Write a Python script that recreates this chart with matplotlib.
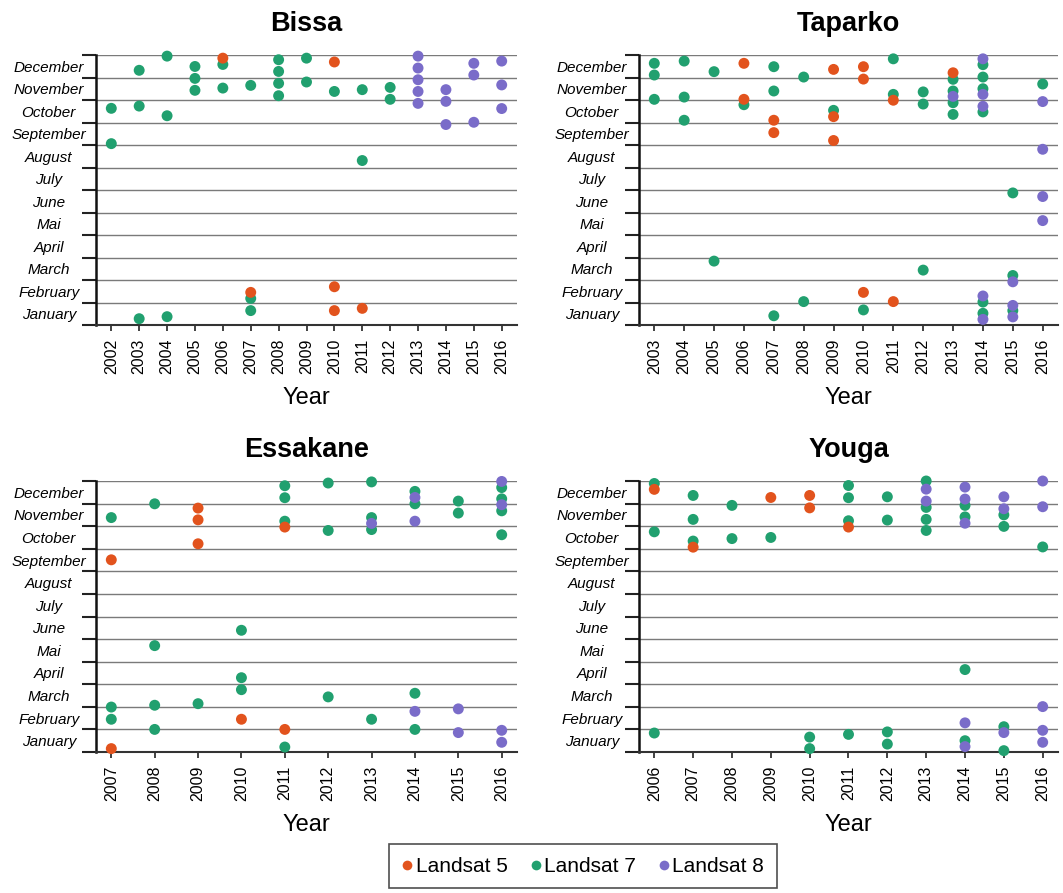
import numpy as np
import matplotlib.pyplot as plt
from matplotlib.lines import Line2D

plt.rcParams['font.family'] = ['Liberation Sans', 'DejaVu Sans']

months = ["January", "February", "March", "April", "Mai", "June", "July",
          "August", "September", "October", "November", "December"]

# (year, position in months: 0 = start of January, 12 = end of December)
bissa_years = list(range(2002, 2017))
bissa_l5 = [(2006, 11.86), (2007, 1.45), (2010, 11.69), (2010, 1.70), (2010, 0.64), (2011, 0.74)]
bissa_l7 = [(2002, 9.63), (2002, 8.06), (2003, 11.32), (2003, 9.73), (2003, 0.28), (2004, 11.95),
            (2004, 9.30), (2004, 0.37), (2005, 11.49), (2005, 10.96), (2005, 10.43), (2006, 11.58),
            (2006, 10.53), (2007, 10.65), (2007, 1.18), (2007, 0.64), (2008, 11.79), (2008, 11.27),
            (2008, 10.74), (2008, 10.19), (2009, 11.86), (2009, 10.80), (2010, 10.38), (2011, 10.46),
            (2011, 7.31), (2012, 10.56), (2012, 10.03)]
bissa_l8 = [(2013, 11.95), (2013, 11.42), (2013, 10.90), (2013, 10.38), (2013, 9.85), (2014, 10.46),
            (2014, 9.94), (2014, 8.91), (2015, 11.63), (2015, 11.11), (2015, 9.01), (2016, 11.73),
            (2016, 10.67), (2016, 9.62)]

taparko_years = list(range(2003, 2017))
taparko_l5 = [(2006, 11.63), (2006, 10.03), (2007, 9.10), (2007, 8.55), (2009, 11.36), (2009, 9.26),
              (2009, 8.20), (2010, 11.48), (2010, 10.93), (2010, 1.45), (2011, 9.99), (2011, 1.04),
              (2013, 11.21)]
taparko_l7 = [(2003, 11.63), (2003, 11.11), (2003, 10.03), (2004, 11.73), (2004, 10.13), (2004, 9.10),
              (2005, 11.26), (2005, 2.84), (2006, 9.79), (2007, 11.48), (2007, 10.40), (2007, 0.41),
              (2008, 11.02), (2008, 1.04), (2009, 9.54), (2010, 0.67), (2011, 11.83), (2011, 10.25),
              (2012, 10.36), (2012, 9.82), (2012, 2.44), (2013, 10.92), (2013, 10.40), (2013, 9.88),
              (2013, 9.36), (2014, 11.57), (2014, 11.02), (2014, 10.50), (2014, 9.47), (2014, 1.02),
              (2014, 0.52), (2015, 5.87), (2015, 2.20), (2015, 0.64), (2016, 10.71)]
taparko_l8 = [(2013, 10.16), (2014, 11.83), (2014, 10.25), (2014, 9.72), (2014, 1.29), (2014, 0.25),
              (2015, 1.92), (2015, 0.87), (2015, 0.36), (2016, 9.93), (2016, 7.81), (2016, 5.71),
              (2016, 4.64)]

essakane_years = list(range(2007, 2017))
essakane_l5 = [(2007, 8.51), (2007, 0.15), (2009, 10.80), (2009, 10.28), (2009, 9.22), (2010, 1.45),
               (2011, 9.96), (2011, 1.00)]
essakane_l7 = [(2007, 10.38), (2007, 1.99), (2007, 1.45), (2008, 10.99), (2008, 4.71), (2008, 2.07),
               (2008, 1.00), (2009, 2.14), (2010, 5.39), (2010, 3.29), (2010, 2.76), (2011, 11.79),
               (2011, 11.26), (2011, 10.22), (2011, 0.22), (2012, 11.91), (2012, 9.81), (2012, 2.44),
               (2013, 11.96), (2013, 10.38), (2013, 9.85), (2013, 1.45), (2014, 11.54), (2014, 10.99),
               (2014, 2.60), (2014, 1.00), (2015, 11.11), (2015, 10.58), (2016, 11.71), (2016, 11.21),
               (2016, 10.68), (2016, 9.62)]
essakane_l8 = [(2013, 10.12), (2014, 11.27), (2014, 10.22), (2014, 1.80), (2015, 1.91), (2015, 0.86),
               (2016, 11.98), (2016, 10.95), (2016, 0.96), (2016, 0.43)]

youga_years = list(range(2006, 2017))
youga_l5 = [(2006, 11.63), (2007, 9.07), (2009, 11.27), (2010, 11.36), (2010, 10.81), (2011, 9.96)]
youga_l7 = [(2006, 11.89), (2006, 9.75), (2006, 0.84), (2007, 11.36), (2007, 10.30), (2007, 9.34),
            (2008, 10.92), (2008, 9.45), (2009, 9.50), (2010, 0.66), (2010, 0.15), (2011, 11.80),
            (2011, 11.26), (2011, 10.24), (2011, 0.78), (2012, 11.30), (2012, 10.27), (2012, 0.89),
            (2012, 0.35), (2013, 12.0), (2013, 10.83), (2013, 10.30), (2013, 9.81), (2014, 10.92),
            (2014, 10.41), (2014, 3.65), (2014, 0.50), (2015, 10.50), (2015, 9.99), (2015, 1.12),
            (2015, 0.06), (2016, 9.08)]
youga_l8 = [(2013, 11.64), (2013, 11.11), (2014, 11.73), (2014, 11.20), (2014, 10.13), (2014, 1.29),
            (2014, 0.24), (2015, 11.30), (2015, 10.77), (2015, 0.86), (2016, 12.0), (2016, 10.86),
            (2016, 2.01), (2016, 0.96), (2016, 0.43)]

c_l5 = '#e2531d'
c_l7 = '#21a06f'
c_l8 = '#7a6cc9'

W, H = 1063, 893
fig = plt.figure(figsize=(W / 100, H / 100), dpi=100)

# axes boxes in pixels: left, top, right, bottom
panels = [
    ("Bissa", bissa_years, bissa_l5, bissa_l7, bissa_l8, (96, 55, 517, 325)),
    ("Taparko", taparko_years, taparko_l5, taparko_l7, taparko_l8, (639, 55, 1058, 325)),
    ("Essakane", essakane_years, essakane_l5, essakane_l7, essakane_l8, (96, 481, 517, 752)),
    ("Youga", youga_years, youga_l5, youga_l7, youga_l8, (639, 481, 1058, 752)),
]

for title, years, l5, l7, l8, (x0, y0, x1, y1) in panels:
    ax = fig.add_axes([x0 / W, 1 - y1 / H, (x1 - x0) / W, (y1 - y0) / H])
    span = years[-1] - years[0]
    ppy = ((x1 - x0) - 2 * 15.3) / span
    m = 15.3 / ppy
    ax.set_xlim(years[0] - m, years[-1] + m)
    ax.set_ylim(0, 12)

    for pts, col in [(l7, c_l7), (l8, c_l8), (l5, c_l5)]:
        xs = [p[0] for p in pts]
        ys = [p[1] for p in pts]
        ax.scatter(xs, ys, s=62, color=col, edgecolors='none', zorder=3, clip_on=False)

    ax.set_yticks(np.arange(0, 13))
    ax.set_yticklabels([])
    ax.set_yticks(np.arange(12) + 0.5, minor=True)
    ax.set_yticklabels(months, minor=True, style='italic', fontsize=11, ha='center')
    ax.tick_params(axis='y', which='major', length=10, width=1.5, color='#222222', direction='out')
    ax.tick_params(axis='y', which='minor', length=0, pad=34)
    ax.yaxis.grid(True, which='major', color='#7a7a7a', linewidth=1.0)
    ax.set_axisbelow(True)

    ax.set_xticks(years)
    ax.set_xticklabels([str(y) for y in years], rotation=90, fontsize=11.5)
    ax.tick_params(axis='x', length=4, width=1.2, color='#222222', pad=6)
    ax.set_xlabel("Year", fontsize=17, labelpad=9)

    for s in ['top', 'right']:
        ax.spines[s].set_visible(False)
    ax.spines['left'].set_linewidth(1.8)
    ax.spines['left'].set_color('#111111')
    ax.spines['bottom'].set_linewidth(1.5)
    ax.spines['bottom'].set_color('#333333')

    ax.set_title(title, fontsize=19.5, fontweight='bold', pad=17)

handles = [Line2D([], [], marker='o', linestyle='none', color=c, markersize=7, markeredgewidth=0)
           for c in [c_l5, c_l7, c_l8]]
leg = fig.legend(handles, ["Landsat 5", "Landsat 7", "Landsat 8"], loc='upper center',
                 bbox_to_anchor=(583 / W, 1 - 834 / H), ncol=3, fontsize=15, frameon=True,
                 fancybox=False, edgecolor='#222222', handlelength=0.5, handletextpad=0.15,
                 columnspacing=1.1, borderpad=0.6)
leg.get_frame().set_linewidth(1.2)

fig.savefig("out.png", dpi=100)
